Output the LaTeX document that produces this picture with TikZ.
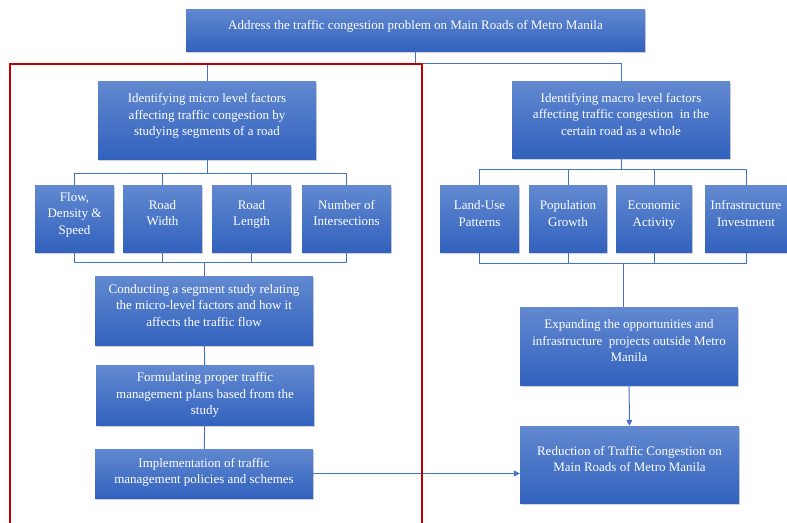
\documentclass[tikz,border=0pt]{standalone}
\usepackage{fontspec}
\setmainfont{Liberation Serif}
\usetikzlibrary{calc, shadows, arrows.meta}
\definecolor{boxtop}{RGB}{98,137,208}
\definecolor{boxbot}{RGB}{50,98,190}
\definecolor{linkblue}{RGB}{68,114,196}
\definecolor{framered}{RGB}{192,0,0}

\begin{document}
\begin{tikzpicture}[x=1pt, y=-1pt, >={Triangle[length=6pt, width=6pt]}, font=\fontsize{13}{16.5}\selectfont]
\tikzstyle{box}=[rectangle, top color=boxtop, bottom color=boxbot, text=white, align=center, inner sep=2pt, text depth=11pt, drop shadow={shadow xshift=1.2pt, shadow yshift=-1.5pt, opacity=0.35}]
\tikzstyle{stage}=[box, minimum width=218pt]
\tikzstyle{factor}=[box, minimum width=79pt, minimum height=67pt]
\tikzstyle{link}=[draw=linkblue, line width=1pt]
\useasboundingbox (0,0) rectangle (787,522);

\node[box, minimum width=459pt, minimum height=42pt] (goal) at (415.5,30) {Address the traffic congestion problem on Main Roads of Metro Manila};

\node[stage, minimum height=78pt] (micro)   at (207,120)   {Identifying micro level factors\\affecting traffic congestion by\\studying segments of a road};
\node[factor]                     (flow)    at (74.5,218.5)  {Flow,\\Density \&\\Speed};
\node[factor]                     (rwidth)  at (162.5,218.5) {Road\\Width};
\node[factor]                     (rlength) at (251.5,218.5) {Road\\Length};
\node[factor, minimum width=89pt] (inter)   at (346.5,218.5) {Number of\\Intersections};
\node[stage, minimum height=69pt] (conduct) at (204,310.5) {Conducting a segment study relating\\the micro-level factors and how it\\affects the traffic flow};
\node[stage, minimum height=60pt, text depth=3pt] (formul) at (205,395) {Formulating proper traffic\\management plans based from the\\study};
\node[stage, minimum height=49pt, text depth=5pt] (impl)   at (204,473.5) {Implementation of traffic\\management policies and schemes};

\node[stage, minimum height=77pt] (macro)   at (621,119.5) {Identifying macro level factors\\affecting traffic congestion \ in the\\certain road as a whole};
\node[factor]                     (landuse) at (479.5,219)   {Land-Use\\Patterns};
\node[factor, minimum width=78pt] (popgrow) at (568,219)     {Population\\Growth};
\node[factor, minimum width=76pt] (econ)    at (654,219)     {Economic\\Activity};
\node[factor, minimum width=82pt] (infra)   at (746,219)     {Infrastructure\\Investment};
\node[stage, minimum height=78pt] (expand)  at (629,346)   {Expanding the opportunities and\\infrastructure \ projects outside Metro\\Manila};
\node[stage, minimum width=219pt, minimum height=77pt] (reduce) at (629.5,464.5) {Reduction of Traffic Congestion on\\Main Roads of Metro Manila};

\draw[link] (goal.south) -- ++(0,12) coordinate (split);
\draw[link] (micro.north) |- (split) -| (macro.north);

\draw[link] (micro.south) -- ++(0,14) coordinate (mbus);
\draw[link] (conduct.north) -- ++(0,-13) coordinate (mjoin);
\foreach \f in {flow,rwidth,rlength,inter}{
  \draw[link] (mbus) -| (\f.north);
  \draw[link] (\f.south) |- (mjoin);
}
\path (conduct) edge[link] (formul)
      (formul)  edge[link] (impl);
\draw[link, ->] (impl.east) -- (impl.east -| reduce.west);

\draw[link] (macro.south) -- ++(0,11) coordinate (xbus);
\coordinate (xjoin) at (623,263);
\foreach \f in {landuse,popgrow,econ,infra}{
  \draw[link] (xbus) -| (\f.north);
  \draw[link] (\f.south) |- (xjoin);
}
\draw[link] (xjoin) -- (xjoin |- expand.north);
\path (expand) edge[link, ->] (reduce);

\draw[framered, line width=2.5pt] (10,64) rectangle (422,540);
\end{tikzpicture}
\end{document}
